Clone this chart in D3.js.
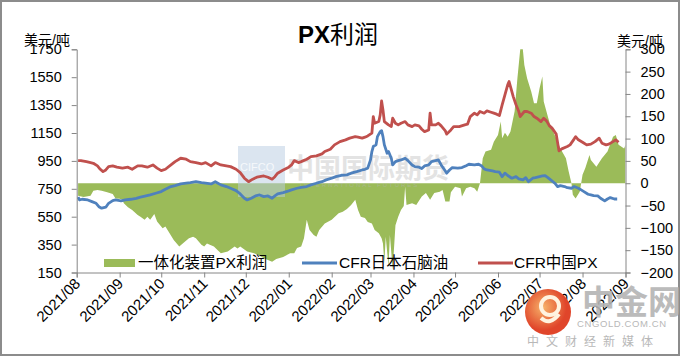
<!DOCTYPE html>
<html><head><meta charset="utf-8">
<script src="https://cdn.jsdelivr.net/npm/d3@7/dist/d3.min.js"></script>
<style>
html,body{margin:0;padding:0;background:#fff;}
svg{display:block;font-family:"Liberation Sans","Noto Sans CJK SC",sans-serif;}
</style></head>
<body>
<svg id="chart" width="680" height="356"></svg>
<script>
// ---------- DATA ----------
const title = "PX利润";
const unitLabel = "美元/吨";
const seriesNames = ["一体化装置PX利润", "CFR日本石脑油", "CFR中国PX"];
const leftTicks = [150, 350, 550, 750, 950, 1150, 1350, 1550, 1750];
const rightTicks = [-200, -150, -100, -50, 0, 50, 100, 150, 200, 250, 300];
const monthTicks = ["2021/08","2021/09","2021/10","2021/11","2021/12","2022/01","2022/02","2022/03","2022/04","2022/05","2022/06","2022/07","2022/08","2022/09"];

// 一体化装置PX利润 (right axis)
const pxProfit = [
["2021-08-02",-28],["2021-08-06",-31],["2021-08-11",-28],["2021-08-13",-17],["2021-08-16",-15],["2021-08-19",-17],
["2021-08-23",-20],["2021-08-27",-24],["2021-08-29",-34],["2021-09-01",-35],["2021-09-03",-37],["2021-09-04",-45],
["2021-09-07",-54],["2021-09-10",-60],["2021-09-14",-71],["2021-09-16",-75],["2021-09-19",-82],["2021-09-21",-75],
["2021-09-23",-82],["2021-09-26",-69],["2021-09-28",-86],["2021-10-02",-101],["2021-10-04",-97],["2021-10-07",-112],
["2021-10-10",-127],["2021-10-14",-142],["2021-10-18",-131],["2021-10-21",-123],["2021-10-24",-120],["2021-10-26",-123],
["2021-10-30",-138],["2021-11-01",-142],["2021-11-03",-135],["2021-11-08",-142],["2021-11-13",-157],["2021-11-18",-153],
["2021-11-23",-142],["2021-11-25",-146],["2021-11-27",-142],["2021-12-02",-153],["2021-12-07",-157],["2021-12-10",-161],
["2021-12-14",-168],["2021-12-17",-172],["2021-12-20",-176],["2021-12-23",-170],["2021-12-28",-165],["2022-01-02",-157],
["2022-01-05",-157],["2022-01-07",-145],["2022-01-10",-142],["2022-01-12",-123],["2022-01-14",-82],["2022-01-16",-105],
["2022-01-19",-116],["2022-01-21",-120],["2022-01-23",-105],["2022-01-27",-90],["2022-02-01",-82],["2022-02-06",-67],
["2022-02-09",-64],["2022-02-12",-58],["2022-02-15",-49],["2022-02-18",-37],["2022-02-20",-60],["2022-02-22",-75],
["2022-02-25",-78],["2022-02-27",-87],["2022-03-02",-90],["2022-03-04",-105],["2022-03-07",-112],["2022-03-09",-123],
["2022-03-10",-135],["2022-03-11",-179],["2022-03-12",-120],["2022-03-14",-187],["2022-03-15",-116],["2022-03-17",-194],
["2022-03-19",-94],["2022-03-21",-75],["2022-03-23",-60],["2022-03-25",-51],["2022-03-26",-8],["2022-03-27",-49],
["2022-03-31",-45],["2022-04-03",-49],["2022-04-07",-30],["2022-04-10",-22],["2022-04-13",-37],["2022-04-16",-22],
["2022-04-20",-19],["2022-04-22",-15],["2022-04-24",-41],["2022-04-27",-41],["2022-04-28",-20],["2022-05-01",-8],
["2022-05-05",-11],["2022-05-06",-30],["2022-05-09",-11],["2022-05-12",-8],["2022-05-15",-11],["2022-05-17",-19],
["2022-05-19",0],["2022-05-21",56],["2022-05-23",71],["2022-05-27",75],["2022-05-29",93],["2022-06-01",108],
["2022-06-03",138],["2022-06-04",101],["2022-06-06",113],["2022-06-08",104],["2022-06-10",116],["2022-06-13",161],
["2022-06-15",235],["2022-06-18",330],["2022-06-20",265],["2022-06-22",235],["2022-06-25",205],["2022-06-27",179],
["2022-06-29",179],["2022-07-01",213],["2022-07-03",239],["2022-07-04",183],["2022-07-07",149],["2022-07-09",127],
["2022-07-13",101],["2022-07-16",78],["2022-07-20",56],["2022-07-22",26],["2022-07-24",0],["2022-07-25",-26],
["2022-07-27",-34],["2022-07-30",-19],["2022-07-31",0],["2022-08-01",19],["2022-08-03",34],["2022-08-06",63],
["2022-08-07",52],["2022-08-11",37],["2022-08-15",56],["2022-08-19",71],["2022-08-23",104],["2022-08-25",108],
["2022-08-27",86],["2022-08-31",78],["2022-09-01",86]
];

// CFR日本石脑油 (left axis)
const naphtha = [
["2021-08-02",690],["2021-08-03",670],["2021-08-05",675],["2021-08-09",670],["2021-08-12",658],["2021-08-15",646],
["2021-08-17",622],["2021-08-19",611],["2021-08-22",618],["2021-08-24",646],["2021-08-27",665],["2021-08-29",670],
["2021-09-02",663],["2021-09-05",670],["2021-09-09",675],["2021-09-13",682],["2021-09-16",690],["2021-09-20",699],
["2021-09-23",706],["2021-09-27",718],["2021-10-01",730],["2021-10-04",747],["2021-10-08",766],["2021-10-11",773],
["2021-10-15",785],["2021-10-19",790],["2021-10-22",794],["2021-10-26",801],["2021-10-30",794],["2021-11-02",790],
["2021-11-06",785],["2021-11-09",801],["2021-11-13",778],["2021-11-17",766],["2021-11-20",754],["2021-11-24",737],
["2021-11-27",713],["2021-11-30",682],["2021-12-02",670],["2021-12-05",682],["2021-12-08",699],["2021-12-11",706],
["2021-12-14",694],["2021-12-17",699],["2021-12-20",682],["2021-12-22",699],["2021-12-24",713],["2021-12-28",723],
["2022-01-01",735],["2022-01-03",742],["2022-01-07",754],["2022-01-10",761],["2022-01-14",766],["2022-01-17",778],
["2022-01-21",790],["2022-01-25",801],["2022-01-28",814],["2022-02-01",826],["2022-02-04",837],["2022-02-08",847],
["2022-02-12",850],["2022-02-15",862],["2022-02-19",873],["2022-02-23",885],["2022-02-25",890],["2022-02-27",898],
["2022-03-01",957],["2022-03-02",1017],["2022-03-03",1053],["2022-03-05",1065],["2022-03-06",1124],["2022-03-08",1160],
["2022-03-09",1167],["2022-03-10",1124],["2022-03-11",1065],["2022-03-13",1005],["2022-03-14",1017],["2022-03-16",969],
["2022-03-17",921],["2022-03-19",945],["2022-03-21",952],["2022-03-23",957],["2022-03-26",969],["2022-03-28",952],
["2022-03-31",921],["2022-04-02",909],["2022-04-05",905],["2022-04-07",895],["2022-04-09",914],["2022-04-12",921],
["2022-04-14",945],["2022-04-17",952],["2022-04-19",957],["2022-04-21",921],["2022-04-24",878],["2022-04-25",862],
["2022-04-27",885],["2022-04-29",902],["2022-05-03",898],["2022-05-06",902],["2022-05-09",916],["2022-05-11",926],
["2022-05-15",921],["2022-05-18",926],["2022-05-20",916],["2022-05-22",893],["2022-05-24",885],["2022-05-28",878],
["2022-05-30",873],["2022-06-02",869],["2022-06-04",837],["2022-06-06",862],["2022-06-08",845],["2022-06-11",826],
["2022-06-14",837],["2022-06-16",821],["2022-06-19",814],["2022-06-21",830],["2022-06-23",801],["2022-06-26",826],
["2022-06-28",830],["2022-07-01",837],["2022-07-03",842],["2022-07-05",845],["2022-07-07",830],["2022-07-09",814],
["2022-07-12",790],["2022-07-14",766],["2022-07-16",773],["2022-07-19",766],["2022-07-21",758],["2022-07-24",754],
["2022-07-26",766],["2022-07-29",754],["2022-07-31",742],["2022-08-02",730],["2022-08-05",711],["2022-08-07",706],
["2022-08-09",701],["2022-08-12",699],["2022-08-14",682],["2022-08-17",663],["2022-08-19",677],["2022-08-21",687],
["2022-08-24",677],["2022-08-26",677]
];

// CFR中国PX (left axis)
const pxChina = [
["2021-08-02",952],["2021-08-04",952],["2021-08-08",945],["2021-08-11",938],["2021-08-13",933],["2021-08-16",914],
["2021-08-18",890],["2021-08-20",873],["2021-08-22",885],["2021-08-24",909],["2021-08-27",914],["2021-08-30",905],
["2021-09-03",898],["2021-09-07",905],["2021-09-10",890],["2021-09-14",914],["2021-09-17",914],["2021-09-21",905],
["2021-09-25",921],["2021-09-28",898],["2021-10-01",880],["2021-10-04",890],["2021-10-08",921],["2021-10-11",945],
["2021-10-15",969],["2021-10-19",962],["2021-10-22",945],["2021-10-26",938],["2021-10-30",928],["2021-11-02",938],
["2021-11-06",914],["2021-11-09",938],["2021-11-13",921],["2021-11-17",914],["2021-11-20",909],["2021-11-24",890],
["2021-11-27",866],["2021-11-30",826],["2021-12-03",801],["2021-12-06",819],["2021-12-09",833],["2021-12-14",842],
["2021-12-17",833],["2021-12-20",819],["2021-12-22",837],["2021-12-24",862],["2021-12-28",885],["2022-01-01",905],
["2022-01-03",921],["2022-01-05",952],["2022-01-08",938],["2022-01-10",945],["2022-01-14",962],["2022-01-17",981],
["2022-01-21",986],["2022-01-25",1000],["2022-01-27",1017],["2022-01-31",1034],["2022-02-03",1065],["2022-02-07",1088],
["2022-02-11",1101],["2022-02-14",1113],["2022-02-18",1124],["2022-02-20",1120],["2022-02-23",1113],["2022-02-25",1120],
["2022-02-27",1129],["2022-03-02",1149],["2022-03-03",1268],["2022-03-04",1220],["2022-03-07",1232],["2022-03-08",1280],
["2022-03-09",1380],["2022-03-10",1316],["2022-03-11",1232],["2022-03-14",1208],["2022-03-16",1196],["2022-03-17",1256],
["2022-03-19",1220],["2022-03-21",1208],["2022-03-23",1220],["2022-03-26",1232],["2022-03-28",1208],["2022-03-31",1196],
["2022-04-02",1208],["2022-04-05",1201],["2022-04-07",1177],["2022-04-09",1160],["2022-04-12",1172],["2022-04-13",1292],
["2022-04-14",1208],["2022-04-17",1208],["2022-04-19",1220],["2022-04-21",1201],["2022-04-24",1165],["2022-04-25",1142],
["2022-04-28",1172],["2022-04-30",1196],["2022-05-04",1196],["2022-05-08",1208],["2022-05-10",1213],["2022-05-12",1268],
["2022-05-15",1292],["2022-05-17",1280],["2022-05-19",1304],["2022-05-22",1292],["2022-05-24",1309],["2022-05-27",1299],
["2022-05-29",1292],["2022-05-31",1285],["2022-06-02",1275],["2022-06-04",1352],["2022-06-06",1424],["2022-06-08",1495],
["2022-06-09",1519],["2022-06-10",1483],["2022-06-12",1411],["2022-06-14",1352],["2022-06-16",1304],["2022-06-17",1268],
["2022-06-20",1304],["2022-06-22",1304],["2022-06-25",1292],["2022-06-27",1268],["2022-06-29",1256],["2022-07-02",1232],
["2022-07-04",1256],["2022-07-06",1237],["2022-07-08",1203],["2022-07-10",1185],["2022-07-13",1142],["2022-07-15",1022],
["2022-07-17",1036],["2022-07-21",1053],["2022-07-23",1065],["2022-07-26",1108],["2022-07-27",1124],["2022-07-29",1101],
["2022-08-01",1084],["2022-08-04",1065],["2022-08-07",1070],["2022-08-10",1088],["2022-08-13",1113],["2022-08-15",1077],
["2022-08-18",1065],["2022-08-20",1070],["2022-08-23",1088],["2022-08-25",1101],["2022-08-27",1084]
];

// ---------- CHART ----------
const parse = d3.timeParse("%Y-%m-%d");
const prep = arr => arr.map(d => ({date: parse(d[0]), v: d[1]}));
const greenData = prep(pxProfit), blueData = prep(naphtha), redData = prep(pxChina);

const svg = d3.select("#chart");
const W = 680, H = 356;
const plot = {left: 76.7, right: 625.5, top: 49.3, bottom: 272.5};

const x = d3.scaleTime().domain([parse("2021-08-01"), parse("2022-09-01")]).range([plot.left, plot.right]);
const yL = d3.scaleLinear().domain([150, 1750]).range([plot.bottom, plot.top]);
const yR = d3.scaleLinear().domain([-200, 300]).range([plot.bottom, plot.top]);

const colGreen = "#9BBB59", colBlue = "#4F81BD", colRed = "#C0504D";

// outer border
svg.append("rect").attr("x", 1).attr("y", 1).attr("width", W - 2).attr("height", H - 2)
  .attr("fill", "#fff").attr("stroke", "#8c8c8c").attr("stroke-width", 2);

svg.append("defs").append("clipPath").attr("id", "clip")
  .append("rect").attr("x", plot.left).attr("y", plot.top)
  .attr("width", plot.right - plot.left).attr("height", plot.bottom - plot.top);

// area
const area = d3.area().x(d => x(d.date)).y0(yR(0)).y1(d => yR(d.v));
svg.append("path").datum(greenData).attr("clip-path", "url(#clip)")
  .attr("d", area).attr("fill", colGreen);

// watermark (middle)
const wm = svg.append("g").attr("opacity", 0.5);
wm.append("rect").attr("x", 238).attr("y", 146).attr("width", 47).attr("height", 51).attr("fill", "#b9cde3");
wm.append("text").attr("x", 240).attr("y", 171).attr("font-size", 11).attr("fill", "#eef3f9").text("CIFCO");
wm.append("text").attr("x", 287).attr("y", 178).attr("font-size", 27).attr("font-weight", "bold")
  .attr("fill", "#c8c8c8").attr("font-family", "Noto Sans CJK SC").text("中国国际期货");
wm.append("text").attr("x", 300).attr("y", 187).attr("font-size", 6).attr("letter-spacing", 2)
  .attr("fill", "#b8b8b8").text("INTERNATIONAL FUTURES");

// lines
const lineL = d3.line().x(d => x(d.date)).y(d => yL(d.v));
svg.append("path").datum(blueData).attr("d", lineL).attr("fill", "none")
  .attr("stroke", colBlue).attr("stroke-width", 2.8).attr("stroke-linejoin", "round");
svg.append("path").datum(redData).attr("d", lineL).attr("fill", "none")
  .attr("stroke", colRed).attr("stroke-width", 2.8).attr("stroke-linejoin", "round");

// axes
const axisColor = "#868686";
const gL = svg.append("g").attr("transform", `translate(${plot.left},0)`)
  .call(d3.axisLeft(yL).tickValues(leftTicks).tickSize(5).tickPadding(10).tickFormat(d3.format("d")));
const gR = svg.append("g").attr("transform", `translate(${plot.right},0)`)
  .call(d3.axisRight(yR).tickValues(rightTicks).tickSize(5).tickPadding(10).tickFormat(d3.format("d")));
const monthDates = monthTicks.map(s => d3.timeParse("%Y/%m")(s));
const gX = svg.append("g").attr("transform", `translate(0,${plot.bottom})`)
  .call(d3.axisBottom(x).tickValues(monthDates).tickSize(5).tickFormat((d, i) => monthTicks[i]));

[gL, gR, gX].forEach(g => {
  g.select(".domain").attr("stroke", axisColor);
  g.selectAll(".tick line").attr("stroke", axisColor);
  g.selectAll("text").attr("fill", "#000").attr("font-size", 14.5)
    .attr("font-family", "Liberation Sans, sans-serif");
});
gX.selectAll(".tick text")
  .attr("font-size", 15)
  .attr("text-anchor", "end").attr("dy", 0).attr("y", 0)
  .attr("transform", "translate(4,12) rotate(-45)");

// unit labels
svg.append("text").attr("x", 24).attr("y", 45).attr("font-size", 14).attr("fill", "#000").text(unitLabel);
svg.append("text").attr("x", 617).attr("y", 46).attr("font-size", 14).attr("fill", "#000").text(unitLabel);

// title
const t = svg.append("text").attr("x", 338).attr("y", 43).attr("text-anchor", "middle")
  .attr("font-size", 24).attr("fill", "#000");
t.append("tspan").attr("font-weight", "bold").text(title.slice(0, 2));
t.append("tspan").attr("font-family", "Noto Sans CJK SC").text(title.slice(2));

// legend
const lg = svg.append("g").attr("font-size", 15.5).attr("fill", "#000");
lg.append("rect").attr("x", 104).attr("y", 259).attr("width", 31).attr("height", 8).attr("fill", colGreen);
lg.append("text").attr("x", 138).attr("y", 268).text(seriesNames[0]);
lg.append("line").attr("x1", 302).attr("x2", 337).attr("y1", 263).attr("y2", 263)
  .attr("stroke", colBlue).attr("stroke-width", 2.8);
lg.append("text").attr("x", 339).attr("y", 268).text(seriesNames[1]);
lg.append("line").attr("x1", 478).attr("x2", 513).attr("y1", 263).attr("y2", 263)
  .attr("stroke", colRed).attr("stroke-width", 2.8);
lg.append("text").attr("x", 514).attr("y", 268).text(seriesNames[2]);

// site logo watermark (bottom right)
const logo = svg.append("g");
const grad = svg.select("defs").append("radialGradient").attr("id", "lg").attr("cx", "40%").attr("cy", "40%");
grad.append("stop").attr("offset", "0%").attr("stop-color", "#f7b36a");
grad.append("stop").attr("offset", "100%").attr("stop-color", "#e0452a");
logo.append("circle").attr("cx", 548).attr("cy", 312).attr("r", 23).attr("fill", "url(#lg)");
logo.append("circle").attr("cx", 550).attr("cy", 306).attr("r", 9).attr("fill", "none")
  .attr("stroke", "#fff3e0").attr("stroke-width", 4);
logo.append("path").attr("d", "M541,318 Q550,326 559,314").attr("fill", "none")
  .attr("stroke", "#fff3e0").attr("stroke-width", 4);
logo.append("text").attr("x", 582).attr("y", 314).attr("font-size", 33).attr("font-weight", "bold")
  .attr("fill", "#b4b4b4").attr("opacity", 0.9).attr("font-family", "Noto Sans CJK SC").text("中金网");
logo.append("text").attr("x", 577).attr("y", 327).attr("font-size", 9.5).attr("fill", "#b8b8b8")
  .attr("letter-spacing", 0.6).text("CNGOLD.COM.CN");
logo.append("text").attr("x", 527).attr("y", 346).attr("font-size", 12).attr("fill", "#b8b8b8")
  .attr("letter-spacing", 7).attr("font-family", "Noto Sans CJK SC").text("中文财经新媒体");
</script>
</body></html>
